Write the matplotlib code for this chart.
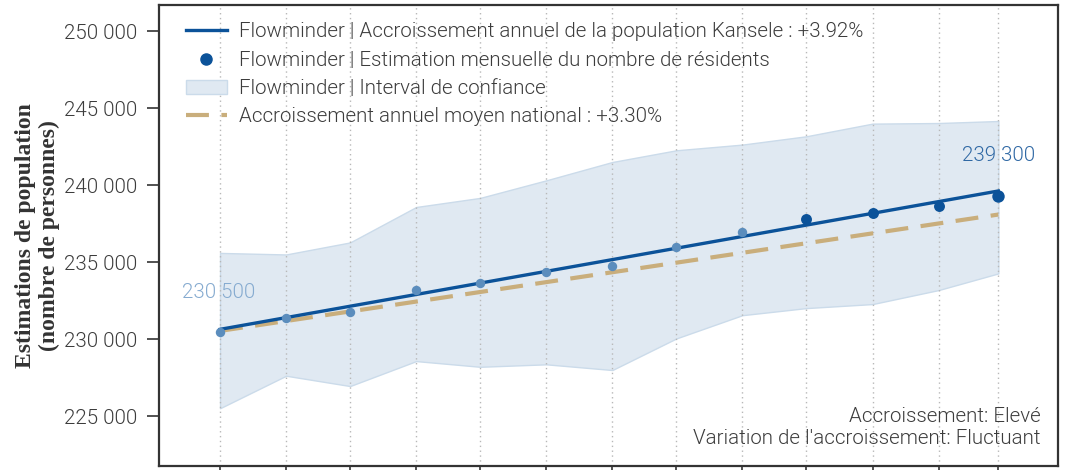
import matplotlib
matplotlib.use('Agg')
import matplotlib.pyplot as plt
from matplotlib import lines, patches
import pandas as pd

# monthly estimates (one point per month)
months = pd.date_range('2022-03-01', periods=13, freq='MS')
estimates = [230500, 231360, 231790, 233180, 233670, 234380, 234780,
             236000, 236970, 237800, 238170, 238660, 239300]
ci_upper = [235610, 235510, 236290, 238590, 239180, 240320, 241510,
            242270, 242640, 243180, 244000, 244040, 244170]
ci_lower = [225530, 227640, 226970, 228590, 228220, 228380, 228010,
            230060, 231570, 232030, 232290, 233200, 234280]
# trend lines, start and end of the period
trend_local = [230650, 239630]
trend_national = [230550, 238100]
growth_local = '+3.92%'
growth_national = '+3.30%'
yticks = [225000, 230000, 235000, 240000, 245000, 250000]

BLUE = '#0b5299'
LIGHT_BLUE = '#5b8dbd'
TAN = '#c9ae7c'
TEXT = '#3c3c3c'
BAND = '#e0e9f2'
FS = 14.8

plt.rcParams['font.family'] = ['Roboto', 'DejaVu Sans']
plt.rcParams['font.weight'] = 300

fig = plt.figure(figsize=(10.71, 4.70), dpi=100)
ax = fig.add_axes([0.1487, 0.0091, 0.9879 - 0.1487, 0.9894 - 0.0091])

ax.fill_between(months, ci_lower, ci_upper, facecolor=BAND,
                edgecolor='#cbdbea', linewidth=1, zorder=1)

ends = [months[0], months[-1]]
ax.plot(ends, trend_national, color=TAN, lw=3, dashes=(5.5, 3), zorder=2)
ax.plot(ends, trend_local, color=BLUE, lw=2.4, zorder=3)

n_recent = 4
old = len(estimates) - n_recent
ax.scatter(months[:old], estimates[:old], s=46, color=LIGHT_BLUE, zorder=4, linewidths=0)
ax.scatter(months[old:-1], estimates[old:-1], s=62, color=BLUE, zorder=4, linewidths=0)
ax.scatter(months[-1:], estimates[-1:], s=80, color=BLUE, zorder=4, linewidths=0)

fmt = lambda v: '{:,}'.format(v).replace(',', ' ')
ax.annotate(fmt(estimates[0]), (months[0], estimates[0]), xytext=(-1, 28),
            textcoords='offset points', ha='center', va='center',
            fontsize=FS, color='#86abd0')
ax.annotate(fmt(estimates[-1]), (months[-1], estimates[-1]), xytext=(0, 29),
            textcoords='offset points', ha='center', va='center',
            fontsize=FS, color='#2f68a4')

ax.text(0.981, 0.038, "Accroissement: Elevé\nVariation de l'accroissement: Fluctuant",
        transform=ax.transAxes, ha='right', va='bottom', fontsize=FS,
        color=TEXT, linespacing=1.2)

ax.set_xlim(months[0] - pd.Timedelta(days=28.5), months[-1] + pd.Timedelta(days=28))
ax.set_ylim(221800, 251700)
ax.set_xticks(months)
ax.set_yticks(yticks)
ax.set_yticklabels([fmt(v) for v in yticks])
ax.tick_params(axis='x', labelbottom=False, length=6, width=1.2, color='#333333')
ax.tick_params(axis='y', labelsize=FS, labelcolor=TEXT, length=9, width=1.2,
               color='#333333', pad=7)
ax.grid(axis='x', linestyle=(0, (1, 2.5)), color='#b8b8b8', lw=1)
for s in ax.spines.values():
    s.set_color('#333333')
    s.set_linewidth(1.6)

ax.set_ylabel('Estimations de population\n(nombre de personnes)',
              family='Liberation Serif', fontweight='bold', fontsize=17,
              color='#333333', labelpad=3, linespacing=1.12)

handles = [
    lines.Line2D([], [], color=BLUE, lw=2.4,
                 label='Flowminder | Accroissement annuel de la population Kansele : ' + growth_local),
    lines.Line2D([], [], color=BLUE, marker='o', ls='none', markersize=8,
                 label='Flowminder | Estimation mensuelle du nombre de résidents'),
    patches.Patch(facecolor=BAND, edgecolor='#cbdbea',
                  label='Flowminder | Interval de confiance'),
    lines.Line2D([], [], color=TAN, lw=3, dashes=(5.5, 3),
                 label='Accroissement annuel moyen national : ' + growth_national),
]
leg = ax.legend(handles=handles, loc='upper left', bbox_to_anchor=(0.01, 1.0),
                frameon=False, fontsize=FS, handlelength=2.0, handletextpad=0.6,
                labelspacing=0.45, borderaxespad=0.45)
for t in leg.get_texts():
    t.set_color(TEXT)

fig.savefig('out.png', dpi=100)
